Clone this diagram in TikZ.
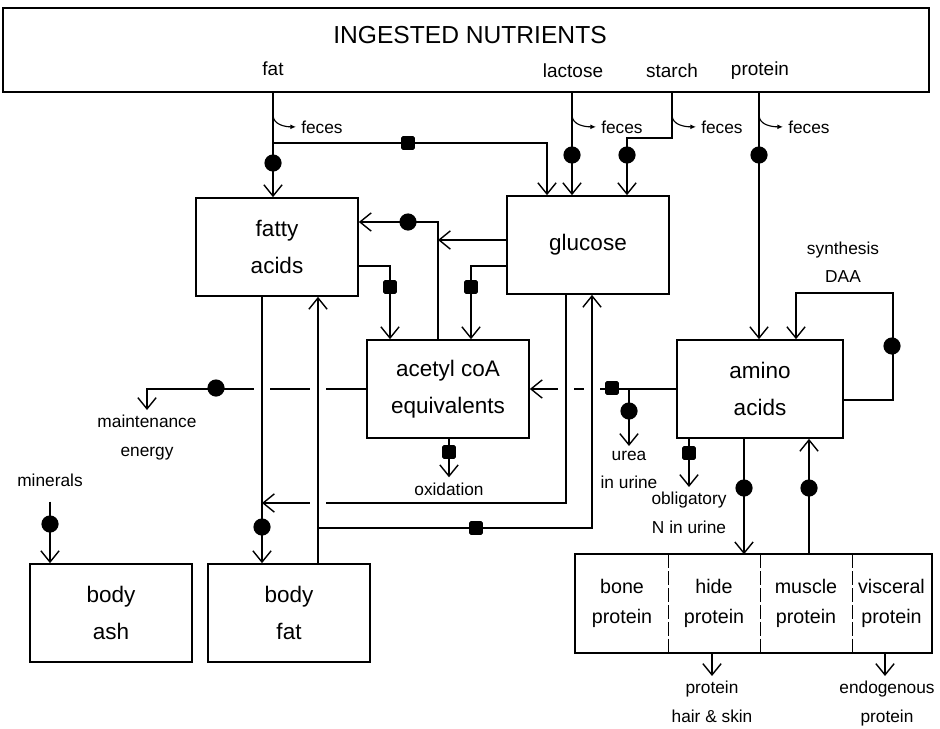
\documentclass[tikz,border=0pt]{standalone}
\usepackage{fontspec}
\setmainfont{Liberation Sans}
\usetikzlibrary{arrows.meta}

\tikzset{
  box/.style={draw, line width=1.2pt, minimum width=4.05cm, minimum height=2.45cm,
    align=center, font=\fontsize{16}{26}\selectfont},
  cell/.style={minimum height=2.425cm, inner sep=0pt, align=center,
    font=\fontsize{14}{21}\selectfont},
  src/.style={font=\fontsize{13.5}{16}\selectfont},
  lab/.style={align=center, font=\fontsize{12.3}{20}\selectfont},
  dot/.style={circle, fill, inner sep=0pt, minimum size=0.43cm},
  sq/.style={fill, inner sep=0pt, minimum size=0.34cm, rounded corners=1pt},
  hop/.style={preaction={draw=white, line width=11pt, -, shorten <=2pt, shorten >=2pt}},
  loss/.style={-{Latex[length=4pt,width=3.5pt]}, line width=0.8pt},
}

\begin{document}
\begin{tikzpicture}[x=0.025cm, y=-0.025cm, line width=1pt,
    >={Straight Barb[length=8pt,width=13pt]}]
  \useasboundingbox (0,0) rectangle (940,729);

  \node [draw, line width=1.2pt, minimum width=23.15cm, minimum height=2.1cm] (top) at (466,50) {};
  \node [font=\fontsize{17.5}{21}\selectfont] (title) at (470,35) {INGESTED NUTRIENTS};
  \node [src] (fat) at (273,69) {fat};
  \node [src] (lactose) at (573,71) {lactose};
  \node [src] (starch) at (672,71) {starch};
  \node [src] (protein) at (760,71) {protein};

  \node [box] (fa) at (277,247) {fatty\\acids};
  \node [box] (glu) at (588,245) {glucose};
  \node [box] (aco) at (448,389) {acetyl coA\\equivalents};
  \node [box, minimum width=4.15cm] (amino) at (760,389) {amino\\acids};
  \node [box] (ash) at (111,613) {body\\ash};
  \node [box] (bfat) at (289,613) {body\\fat};

  \node [cell, minimum width=2.3cm] (bone) at (622,603.5) {bone\\protein};
  \node [cell, minimum width=2.3cm] (hide) at (714,603.5) {hide\\protein};
  \node [cell, minimum width=2.3cm] (muscle) at (806,603.5) {muscle\\protein};
  \node [cell, minimum width=1.975cm] (visceral) at (891.5,603.5) {visceral\\protein};
  \draw [line width=1.2pt] (bone.north west) rectangle (visceral.south east);
  \draw [dash pattern=on 10pt off 2pt] (bone.north east) -- (bone.south east);
  \draw [dash pattern=on 10pt off 2pt] (hide.north east) -- (hide.south east);
  \draw [dash pattern=on 10pt off 2pt] (muscle.north east) -- (muscle.south east);

  \node [lab] (minerals) at (50,480) {minerals};
  \node [lab, anchor=north] (maint) at (147,410) {maintenance\\energy};
  \node [lab, anchor=north] (urea) at (629,446) {urea\\in urine};
  \node [lab, anchor=north] (oblig) at (689,487) {obligatory\\N in urine};
  \node [lab] (daa) at (843,262) {synthesis\\DAA};
  \node [lab, anchor=north] (hair) at (712,676) {protein\\hair \& skin};
  \node [lab, anchor=north] (endo) at (887,676) {endogenous\\protein};

  \coordinate (fatsplit) at (273,143);
  \coordinate (gfa) at (438,240);
  \coordinate (gbf) at (262,503);
  \coordinate (bfg) at (318,528);

  \draw [->] (top.south -| 273,0) -- (fa.north -| 273,0);
  \draw [->] (fatsplit) -| (glu.north -| 547,0);
  \draw [->] (top.south -| 572,0) -- (glu.north -| 572,0);
  \draw [->] (top.south -| 672,0) -- ++(0,45) -| (glu.north -| 627,0);
  \draw [->] (top.south -| 759,0) -- (amino.north -| 759,0);

  \draw [loss] (top.south -| 273,0) ++(0,22) to [out=-90,in=180] ++(23,12) node [lab, right] (f1) {feces};
  \draw [loss] (top.south -| 572,0) ++(0,22) to [out=-90,in=180] ++(24,12) node [lab, right] (f2) {feces};
  \draw [loss] (top.south -| 672,0) ++(0,22) to [out=-90,in=180] ++(24,12) node [lab, right] (f3) {feces};
  \draw [loss] (top.south -| 759,0) ++(0,22) to [out=-90,in=180] ++(24,12) node [lab, right] (f4) {feces};

  \draw [->] (aco.north -| 438,0) |- (fa.east |- 0,222);
  \draw [->] (glu.west |- gfa) -- (gfa);
  \draw [->] (fa.east |- 0,266) -| (aco.north -| 390,0);
  \draw [->] (glu.west |- 0,266) -| (aco.north -| 471,0);

  \draw [->] (aco.west) -| (maint.north);
  \draw [->] (amino.west) -- (aco.east);
  \draw [->] (amino.west -| 629,0) -- (urea.north);
  \draw [->] (amino.south -| 689,0) -- (oblig.north);

  \draw [->, hop] (fa.south -| 262,0) -- (bfat.north -| 262,0);
  \draw [->, hop] (glu.south -| 566,0) |- (gbf);
  \draw [->, hop] (bfat.north -| 318,0) -- (fa.south -| 318,0);
  \draw [->, hop] (bfg) -| (glu.south -| 592,0);

  \node [lab] (oxid) at (449,489) {oxidation};
  \draw [->] (aco.south -| 449,0) -- (oxid.north);

  \draw [->] (amino.east |- 0,400) -- ++(49,0) -- ++(0,-107) -| (amino.north -| 796,0);
  \draw [->] (amino.south -| 744,0) -- (hide.north -| 744,0);
  \draw [->] (muscle.north -| 809,0) -- (amino.south -| 809,0);
  \draw [->] (hide.south -| 712,0) -- (hair.north);
  \draw [->] (visceral.south -| 885,0) -- (endo.north -| 885,0);
  \draw [->] ([yshift=-7pt]minerals.south) -- (ash.north -| minerals.south);

  \node [dot] (c1) at (273,163) {};
  \node [dot] (c2) at (572,155) {};
  \node [dot] (c3) at (627,155) {};
  \node [dot] (c4) at (759,155) {};
  \node [dot] (c5) at (408,222) {};
  \node [dot] (c6) at (216,388) {};
  \node [dot] (c7) at (629,411) {};
  \node [dot] (c8) at (892,346) {};
  \node [dot] (c9) at (744,488) {};
  \node [dot] (c10) at (809,488) {};
  \node [dot] (c11) at (50,524) {};
  \node [dot] (c12) at (262,527) {};

  \node [sq] (s1) at (408,143) {};
  \node [sq] (s2) at (390,287) {};
  \node [sq] (s3) at (471,287) {};
  \node [sq] (s4) at (612,388) {};
  \node [sq] (s5) at (449,452) {};
  \node [sq] (s6) at (689,453) {};
  \node [sq] (s7) at (476,528) {};
\end{tikzpicture}
\end{document}
